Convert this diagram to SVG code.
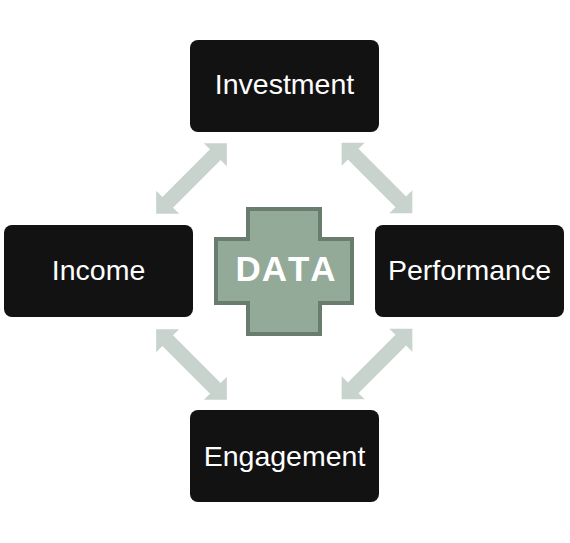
<svg xmlns="http://www.w3.org/2000/svg" width="570" height="543" viewBox="0 0 570 543">
  <style>
    .box { fill: #121212; }
    .lbl { fill: #ffffff; font-family: "Liberation Sans", Arial, sans-serif; font-size: 28.5px; text-anchor: middle; }
    .arrow { fill: #c9d3ce; }
    .cross { fill: #93aa99; stroke: #6a7c6e; stroke-width: 4; }
    .center { fill: #ffffff; font-family: "Liberation Sans", Arial, sans-serif; font-size: 35px; font-weight: bold; text-anchor: middle; letter-spacing: 1px; font-kerning: none; }
  </style>
  <defs>
    <path id="dbl" d="M-50,0 L-33.7,-16.3 L-33.7,-7.5 L33.7,-7.5 L33.7,-16.3 L50,0 L33.7,16.3 L33.7,7.5 L-33.7,7.5 L-33.7,16.3 Z"/>
  </defs>
  <rect width="570" height="543" fill="#ffffff"/>
  <g id="connectors" class="arrow">
    <use href="#dbl" transform="translate(191.5,178.5) rotate(-45)"/>
    <use href="#dbl" transform="translate(377,178) rotate(45)"/>
    <use href="#dbl" transform="translate(191.5,364.5) rotate(45)"/>
    <use href="#dbl" transform="translate(377,364) rotate(-45)"/>
  </g>
  <g id="data">
    <path class="cross" d="M248,209 H320 V239 H352 V303 H320 V334 H248 V303 H216 V239 H248 Z"/>
    <text class="center" x="286" y="281">DATA</text>
  </g>
  <g id="investment">
    <rect class="box" x="190" y="40" width="189" height="92" rx="8"/>
    <text class="lbl" x="284.5" y="94">Investment</text>
  </g>
  <g id="income">
    <rect class="box" x="4" y="225" width="189" height="92" rx="8"/>
    <text class="lbl" x="98.5" y="280">Income</text>
  </g>
  <g id="performance">
    <rect class="box" x="375" y="225" width="189" height="92" rx="8"/>
    <text class="lbl" x="469.5" y="280">Performance</text>
  </g>
  <g id="engagement">
    <rect class="box" x="190" y="410" width="189" height="92" rx="8"/>
    <text class="lbl" x="284.5" y="466">Engagement</text>
  </g>
</svg>
